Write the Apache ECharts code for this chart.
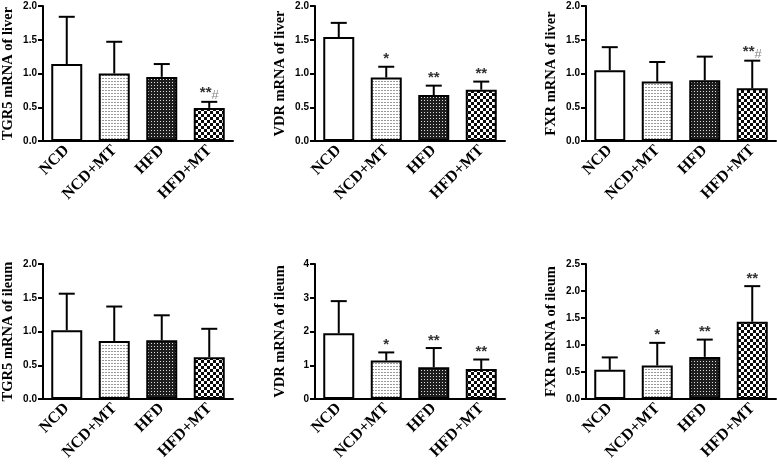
<!DOCTYPE html>
<html><head><meta charset="utf-8">
<script src="https://cdn.jsdelivr.net/npm/echarts@6/dist/echarts.min.js"></script>
<style>html,body{margin:0;padding:0;background:#fff}#c{width:777px;height:464px}</style>
</head><body><div id="c"></div>
<script>
// ---- data ----
const categories = ['NCD', 'NCD+MT', 'HFD', 'HFD+MT'];

const tgr5LiverMean = [1.14, 1.00, 0.95, 0.49];
const tgr5LiverSD   = [0.70, 0.47, 0.19, 0.09];
const tgr5LiverSig  = ['', '', '', '**#'];

const vdrLiverMean = [1.54, 0.94, 0.68, 0.76];
const vdrLiverSD   = [0.21, 0.16, 0.14, 0.12];
const vdrLiverSig  = ['', '*', '**', '**'];

const fxrLiverMean = [1.05, 0.88, 0.90, 0.78];
const fxrLiverSD   = [0.34, 0.29, 0.35, 0.41];
const fxrLiverSig  = ['', '', '', '**#'];

const tgr5IleumMean = [1.02, 0.86, 0.87, 0.62];
const tgr5IleumSD   = [0.54, 0.51, 0.37, 0.42];
const tgr5IleumSig  = ['', '', '', ''];

const vdrIleumMean = [1.95, 1.14, 0.94, 0.89];
const vdrIleumSD   = [0.95, 0.24, 0.57, 0.28];
const vdrIleumSig  = ['', '*', '**', '**'];

const fxrIleumMean = [0.54, 0.62, 0.78, 1.43];
const fxrIleumSD   = [0.23, 0.42, 0.32, 0.66];
const fxrIleumSig  = ['', '*', '**', '**'];

const panelTitles = ['TGR5 mRNA of liver', 'VDR mRNA of liver', 'FXR mRNA of liver',
                     'TGR5 mRNA of ileum', 'VDR mRNA of ileum', 'FXR mRNA of ileum'];
const yMax      = [2.0, 2.0, 2.0, 2.0, 4, 2.5];
const yInterval = [0.5, 0.5, 0.5, 0.5, 1, 0.5];
const yDecimals = [1, 1, 1, 1, 0, 1];

const panels = [
  [tgr5LiverMean, tgr5LiverSD, tgr5LiverSig],
  [vdrLiverMean, vdrLiverSD, vdrLiverSig],
  [fxrLiverMean, fxrLiverSD, fxrLiverSig],
  [tgr5IleumMean, tgr5IleumSD, tgr5IleumSig],
  [vdrIleumMean, vdrIleumSD, vdrIleumSig],
  [fxrIleumMean, fxrIleumSD, fxrIleumSig]
];

// ---- patterns ----
function makeCanvas(w, h, draw) {
  const c = document.createElement('canvas');
  c.width = w; c.height = h;
  const ctx = c.getContext('2d');
  draw(ctx);
  return c;
}
const patWhite = '#ffffff';
const patDots = makeCanvas(3, 3, ctx => {
  ctx.fillStyle = '#fff'; ctx.fillRect(0, 0, 3, 3);
  ctx.fillStyle = '#999'; ctx.fillRect(0, 0, 2, 1);
});
const patDark = makeCanvas(3, 3, ctx => {
  ctx.fillStyle = '#1e1e1e'; ctx.fillRect(0, 0, 3, 3);
  ctx.fillStyle = '#ddd'; ctx.fillRect(1, 1, 1, 1);
});
const patCheck = makeCanvas(6, 6, ctx => {
  ctx.fillStyle = '#0a0a0a'; ctx.fillRect(0, 0, 6, 6);
  ctx.fillStyle = '#fff'; ctx.fillRect(0, 0, 3, 3); ctx.fillRect(3, 3, 3, 3);
});
const fills = [
  patWhite,
  { image: patDots, repeat: 'repeat' },
  { image: patDark, repeat: 'repeat' },
  { image: patCheck, repeat: 'repeat' }
];

// ---- layout ----
const colLeft = [43, 315, 586];
const rowTop = [6, 264];
const gridW = 190, gridH = 135;

const serif = '"Liberation Serif", "Times New Roman", serif';
const sans = '"Liberation Sans", Arial, sans-serif';

const grid = [], xAxis = [], yAxis = [], series = [];
panels.forEach((p, i) => {
  const [mean, sd, sig] = p;
  grid.push({ left: colLeft[i % 3], top: rowTop[Math.floor(i / 3)], width: gridW, height: gridH });
  xAxis.push({
    type: 'category', gridIndex: i, data: categories,
    axisLine: { lineStyle: { color: '#000', width: 2 } },
    axisTick: { alignWithLabel: true, length: 5, lineStyle: { color: '#000', width: 2 } },
    axisLabel: { rotate: 45, interval: 0, margin: 7, color: '#000', fontFamily: serif,
                 fontWeight: 'bold', fontSize: 16 }
  });
  const dec = yDecimals[i];
  yAxis.push({
    type: 'value', gridIndex: i, min: 0, max: yMax[i], interval: yInterval[i],
    name: panelTitles[i], nameLocation: 'middle', nameGap: 27,
    nameTextStyle: { fontFamily: serif, fontWeight: 'bold', fontSize: 14.5, color: '#000' },
    axisLine: { show: true, lineStyle: { color: '#000', width: 2 } },
    axisTick: { show: true, length: 5, lineStyle: { color: '#000', width: 2 } },
    splitLine: { show: false },
    axisLabel: { color: '#000', fontFamily: sans, fontWeight: 'bold', fontSize: 10, margin: 6,
                 formatter: v => v.toFixed(dec) }
  });
  series.push({
    type: 'bar', xAxisIndex: i, yAxisIndex: i, barWidth: 31,
    data: mean.map((m, k) => ({ value: m, itemStyle: { color: fills[k] } })),
    itemStyle: { borderColor: '#000', borderWidth: 2 },
    silent: true, animation: false, z: 2
  });
  series.push({
    type: 'custom', xAxisIndex: i, yAxisIndex: i,
    data: mean.map((m, k) => [k, m, m + sd[k]]),
    encode: { x: 0, y: [1, 2] },
    animation: false, silent: true, z: 3,
    renderItem: (params, api) => {
      const k = api.value(0);
      const p0 = api.coord([k, api.value(1)]);
      const p1 = api.coord([k, api.value(2)]);
      const children = [
        { type: 'line', shape: { x1: p0[0], y1: p0[1], x2: p1[0], y2: p1[1] },
          style: { stroke: '#000', lineWidth: 2 } },
        { type: 'line', shape: { x1: p1[0] - 8, y1: p1[1], x2: p1[0] + 8, y2: p1[1] },
          style: { stroke: '#000', lineWidth: 2 } }
      ];
      const s = sig[params.dataIndex];
      if (s) {
        const stars = s.replace('#', '');
        const hash = s.indexOf('#') >= 0 ? '#' : '';
        children.push({
          type: 'text', x: p1[0], y: p1[1],
          style: {
            text: '{a|' + stars + '}' + (hash ? '{b|' + hash + '}' : ''),
            align: 'center', verticalAlign: 'bottom',
            rich: {
              a: { fontFamily: sans, fontWeight: 'bold', fontSize: 15, fill: '#333', color: '#333' },
              b: { fontFamily: sans, fontSize: 13, fill: '#888', color: '#888', padding: [4, 0, 0, 0] }
            }
          }
        });
      }
      return { type: 'group', children };
    }
  });
});

const chart = echarts.init(document.getElementById('c'), null, { renderer: 'canvas' });
chart.setOption({ animation: false, backgroundColor: '#fff', grid, xAxis, yAxis, series });
</script>
</body></html>
